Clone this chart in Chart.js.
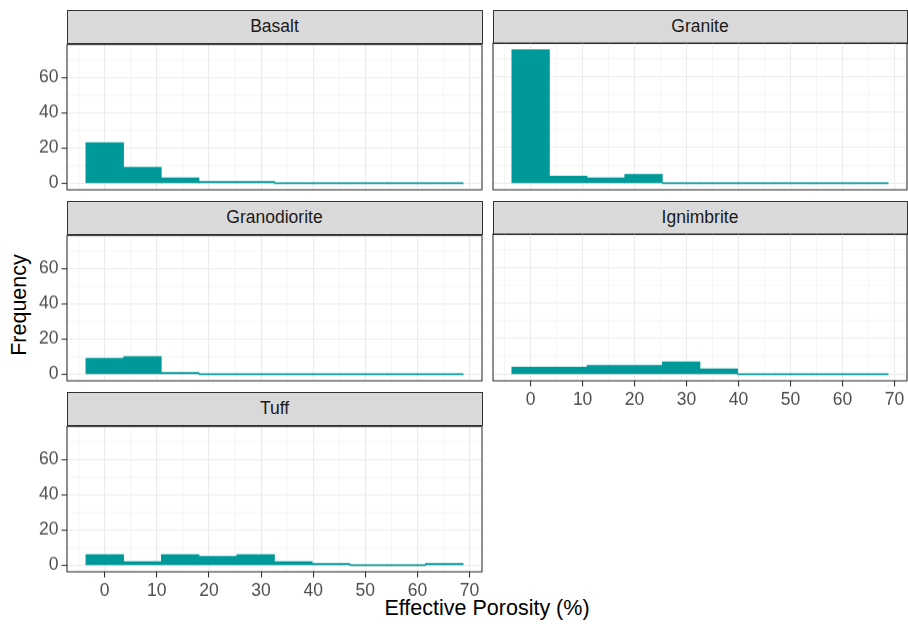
<!DOCTYPE html>
<html>
<head>
<meta charset="utf-8">
<script src="https://cdn.jsdelivr.net/npm/chart.js@4"></script>
<style>
  body { margin: 0; background: #fff; width: 908px; height: 624px; position: relative; overflow: hidden;
         font-family: "Liberation Sans", Arial, sans-serif; }
  canvas { position: absolute; }
  .strip { position: absolute; box-sizing: border-box; background: #D9D9D9; border: 1.1px solid #333;
           color: #1A1A1A; font-size: 17.5px; display: flex; align-items: center; justify-content: center; }
  .title { position: absolute; color: #000; font-size: 21.5px; line-height: 1; white-space: nowrap; }
</style>
</head>
<body>
<div class="title" style="left:20px; top:305px; transform: translate(-50%, -50%) rotate(-90deg);">Frequency</div>
<div class="title" style="left:487px; top:598px; transform: translateX(-50%);">Effective Porosity (%)</div>
<script>
// ---- data ----
const binCenters = [0, 7.24, 14.48, 21.72, 28.96, 36.2, 43.44, 50.68, 57.92, 65.16];
const basalt       = [23, 9, 3, 1, 1, 0, 0, 0, 0, 0];
const granite      = [75, 4, 3, 5, 0, 0, 0, 0, 0, 0];
const granodiorite = [9, 10, 1, 0, 0, 0, 0, 0, 0, 0];
const ignimbrite   = [4, 4, 5, 5, 7, 3, 0, 0, 0, 0];
const tuff         = [6, 2, 6, 5, 6, 2, 1, 0, 0, 1];

const xMajor = [0, 10, 20, 30, 40, 50, 60, 70];
const xMinor = [-5, 5, 15, 25, 35, 45, 55, 65];
const yMajor = [0, 20, 40, 60];
const yMinor = [10, 30, 50, 70];

// ---- layout (pixels) ----
const colX = [67, 493];
const colW = [415, 414];
const rowY = [43, 234, 425];
const panelH = 146.5;
const FONT = "'Liberation Sans', Arial, sans-serif";

const panels = [
    { name: "Basalt",       counts: basalt,       row: 0, col: 0, showX: false, showY: true },
    { name: "Granite",      counts: granite,      row: 0, col: 1, showX: false, showY: false },
    { name: "Granodiorite", counts: granodiorite, row: 1, col: 0, showX: false, showY: true },
    { name: "Ignimbrite",   counts: ignimbrite,   row: 1, col: 1, showX: true,  showY: false },
    { name: "Tuff",         counts: tuff,         row: 2, col: 0, showX: true,  showY: true }
];

// minor grid lines (kept off the tick list so bar widths follow the bins)
const minorGrid = {
    id: "minorGrid",
    beforeDatasetsDraw(chart) {
        const a = chart.chartArea;
        const ctx = chart.ctx;
        ctx.save();
        ctx.strokeStyle = "#EBEBEB";
        ctx.lineWidth = 0.55;
        ctx.beginPath();
        xMinor.forEach(v => {
            const px = chart.scales.x.getPixelForValue(v);
            ctx.moveTo(px, a.top); ctx.lineTo(px, a.bottom);
        });
        yMinor.forEach(v => {
            const py = chart.scales.y.getPixelForValue(v);
            ctx.moveTo(a.left, py); ctx.lineTo(a.right, py);
        });
        ctx.stroke();
        ctx.restore();
    }
};

const panelBorder = {
    id: "panelBorder",
    afterDatasetsDraw(chart) {
        const a = chart.chartArea;
        const ctx = chart.ctx;
        ctx.save();
        ctx.strokeStyle = "#333333";
        ctx.lineWidth = 1.1;
        ctx.strokeRect(a.left, a.top, a.right - a.left, a.bottom - a.top);
        ctx.restore();
    }
};

function axisOpts(major, show, min, max, isX) {
    return {
        type: "linear",
        min, max,
        offset: false,
        afterBuildTicks: s => { s.ticks = major.map(v => ({ value: v })); },
        afterFit: s => { if (isX) s.height = 40; else s.width = 67; },
        border: { display: false },
        grid: {
            offset: false,
            color: "#EBEBEB",
            lineWidth: 1.1,
            drawTicks: show,
            tickLength: 5.5,
            tickWidth: 1.1,
            tickColor: "#333333"
        },
        ticks: {
            display: show,
            autoSkip: false,
            maxRotation: 0,
            padding: 3,
            color: "#4D4D4D",
            font: { family: FONT, size: 17.5 }
        }
    };
}

function makePanel(p) {
    const x = colX[p.col], w = colW[p.col], y = rowY[p.row];

    const strip = document.createElement("div");
    strip.className = "strip";
    strip.style.left = (x - 0.5) + "px";
    strip.style.top = (y - 33.5) + "px";
    strip.style.width = (w + 1) + "px";
    strip.style.height = "34px";
    strip.textContent = p.name;
    document.body.appendChild(strip);

    const canvas = document.createElement("canvas");
    const cw = 67 + w + 14, ch = 12 + panelH + 40;
    canvas.width = cw; canvas.height = ch;
    canvas.style.left = (x - 67) + "px";
    canvas.style.top = (y - 12) + "px";
    canvas.style.width = cw + "px";
    canvas.style.height = ch + "px";
    document.body.appendChild(canvas);

    new Chart(canvas, {
        type: "bar",
        data: {
            datasets: [{
                data: binCenters.map((c, i) => ({ x: c, y: p.counts[i] })),
                backgroundColor: "#009999",
                borderWidth: 0,
                barPercentage: 1,
                categoryPercentage: 1,
                minBarLength: 1
            }]
        },
        options: {
            responsive: false,
            animation: false,
            events: [],
            layout: { padding: { top: 12, right: 14, left: 0, bottom: 0 } },
            plugins: { legend: { display: false }, tooltip: { enabled: false } },
            scales: {
                x: axisOpts(xMajor, p.showX, -7.24, 72.4, true),
                y: axisOpts(yMajor, p.showY, -3.75, 78.75, false)
            }
        },
        plugins: [minorGrid, panelBorder]
    });
}

panels.forEach(makePanel);
</script>
</body>
</html>
